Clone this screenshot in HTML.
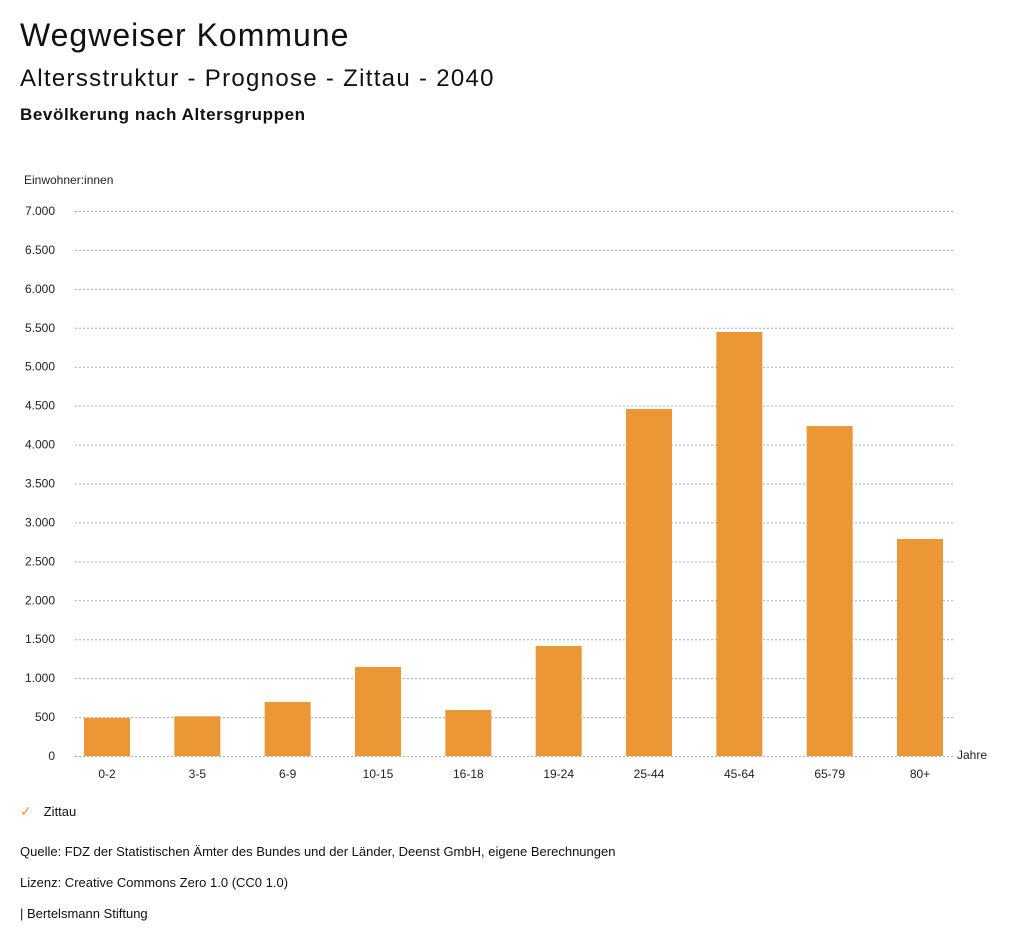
<!DOCTYPE html>
<html><head><meta charset="utf-8"><style>
body{margin:0;background:#fff;font-family:"Liberation Sans",sans-serif;color:#111;}
.t{position:absolute;white-space:nowrap;}
</style></head><body>
<div style="position:relative;width:1024px;height:946px;overflow:hidden">
<div class="t" style="left:20px;top:17px;font-size:32px;letter-spacing:1px">Wegweiser Kommune</div>
<div class="t" style="left:20px;top:65px;font-size:24px;letter-spacing:1.3px">Altersstruktur - Prognose - Zittau - 2040</div>
<div class="t" style="left:20px;top:105px;font-size:17px;font-weight:bold;letter-spacing:0.6px">Bevölkerung nach Altersgruppen</div>
<svg id="c" width="1024" height="800" style="position:absolute;left:0;top:0"></svg>
<div class="t" style="left:20px;top:803px;font-size:13px"><span style="color:#ec9736;font-size:14px;margin-right:12px">✓</span>Zittau</div>
<div class="t" style="left:20px;top:844px;font-size:13px">Quelle: FDZ der Statistischen Ämter des Bundes und der Länder, Deenst GmbH, eigene Berechnungen</div>
<div class="t" style="left:20px;top:875px;font-size:13px">Lizenz: Creative Commons Zero 1.0 (CC0 1.0)</div>
<div class="t" style="left:20px;top:906px;font-size:13px">| Bertelsmann Stiftung</div>
</div>
<script>
const categories=["0-2","3-5","6-9","10-15","16-18","19-24","25-44","45-64","65-79","80+"];
const values=[490,510,694,1143,591,1413,4457,5446,4238,2787];
const yTicks=[0,500,1000,1500,2000,2500,3000,3500,4000,4500,5000,5500,6000,6500,7000];
const yTickLabels=["0","500","1.000","1.500","2.000","2.500","3.000","3.500","4.000","4.500","5.000","5.500","6.000","6.500","7.000"];
const NS="http://www.w3.org/2000/svg";
const svg=document.getElementById('c');
const y0=756,y1=211,x0=75,x1=953;
const y=v=>y0-(v/7000)*(y0-y1);
const step=(920-107)/(categories.length-1);
const x=i=>107+step*i;
function mk(t,a){const e=document.createElementNS(NS,t);for(const k in a)e.setAttribute(k,a[k]);svg.appendChild(e);return e;}
yTicks.forEach((v,i)=>{
 const l=mk('line',{x1:x0,x2:x1,y1:y(v)+0.5,y2:y(v)+0.5,stroke:'#aaa','stroke-dasharray':'2,2'});
 
 
 const t=mk('text',{x:55,y:y(v)+4,'text-anchor':'end','font-size':12,fill:'#222','font-family':'Liberation Sans'});
 t.textContent=yTickLabels[i];
 
 
});
categories.forEach((c,i)=>{
 const r=mk('rect',{x:x(i)-23,y:y(values[i]),width:46,height:y0-y(values[i]),fill:'#ec9736'});
 
 
 const t=mk('text',{x:x(i),y:778,'text-anchor':'middle','font-size':12,fill:'#222','font-family':'Liberation Sans'});
 t.textContent=c;
 
 
});
let t=mk('text',{x:24,y:184,'font-size':12,fill:'#222','font-family':'Liberation Sans'});t.textContent='Einwohner:innen';


t=mk('text',{x:957,y:759,'font-size':12,fill:'#222','font-family':'Liberation Sans'});t.textContent='Jahre';


</script>
</body></html>
